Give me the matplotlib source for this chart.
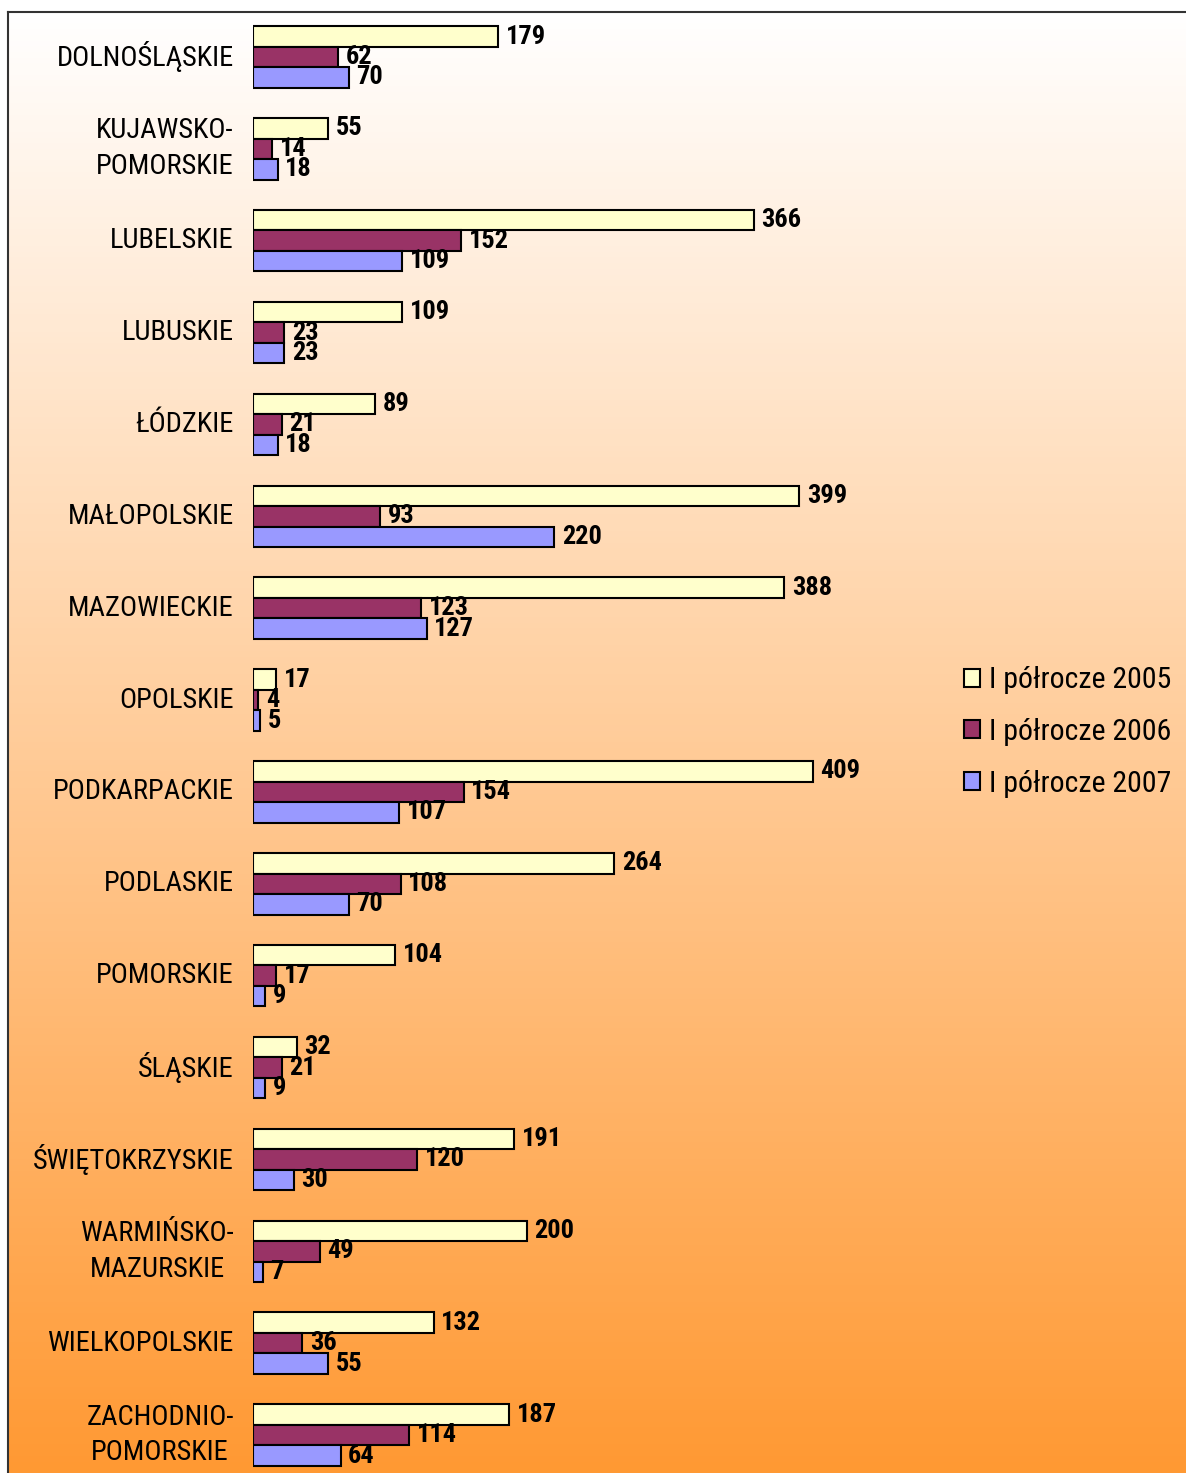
import numpy as np
import matplotlib
matplotlib.use("Agg")
import matplotlib.pyplot as plt
from matplotlib.patches import Patch
from matplotlib.lines import Line2D

regions = ["DOLNOŚLĄSKIE", "KUJAWSKO-\nPOMORSKIE", "LUBELSKIE", "LUBUSKIE", "ŁÓDZKIE",
           "MAŁOPOLSKIE", "MAZOWIECKIE", "OPOLSKIE", "PODKARPACKIE", "PODLASKIE",
           "POMORSKIE", "ŚLĄSKIE", "ŚWIĘTOKRZYSKIE", "WARMIŃSKO-\nMAZURSKIE",
           "WIELKOPOLSKIE", "ZACHODNIO-\nPOMORSKIE"]
h2005 = [179, 55, 366, 109, 89, 399, 388, 17, 409, 264, 104, 32, 191, 200, 132, 187]
h2006 = [62, 14, 152, 23, 21, 93, 123, 4, 154, 108, 17, 21, 120, 49, 36, 114]
h2007 = [70, 18, 109, 23, 18, 220, 127, 5, 107, 70, 9, 9, 30, 7, 55, 64]
series_labels = ["I półrocze 2005", "I półrocze 2006", "I półrocze 2007"]
colors = ["#FFFFCC", "#993366", "#9999FF"]

FONT = ["Roboto Condensed", "DejaVu Sans"]
plt.rcParams["font.family"] = FONT

W, H = 1186, 1473
fig = plt.figure(figsize=(W / 100, H / 100), dpi=100)

# background gradient inside the frame (white -> orange)
bg = fig.add_axes([8 / W, 0, 1 - 8 / W, (H - 12) / H])
grad = np.linspace(0, 1, 256)[:, None]
top = np.array([1.0, 1.0, 1.0])
bot = np.array([1.0, 0.6, 0.2])
img = top[None, None, :] * (1 - grad[:, :, None]) + bot[None, None, :] * grad[:, :, None]
bg.imshow(img, aspect="auto", extent=[0, 1, 0, 1])
bg.set_xlim(0, 1)
bg.set_ylim(0, 1)
bg.axis("off")
fig.add_artist(Line2D([8 / W, 8 / W], [0, (H - 12) / H], color="#333333", lw=1.5))
fig.add_artist(Line2D([8 / W, 1], [(H - 12) / H, (H - 12) / H], color="#333333", lw=1.5))

# main bar axes, positioned so that 1 unit = 1.369 px and groups are 91.87 px apart
px_per_unit = 1.369
x0 = 253
ax_w = 660
ax = fig.add_axes([x0 / W, 0, ax_w / W, (H - 12) / H])
ax.patch.set_alpha(0)
ax.set_xlim(0, ax_w / px_per_unit)
spacing = 91.87
c0 = 57
ax.set_ylim((H - c0) / spacing, (12 - c0) / spacing)

y = np.arange(len(regions))
bh = 20.5 / spacing
for k, vals in enumerate([h2005, h2006, h2007]):
    pos = y + (k - 1) * bh
    ax.barh(pos, vals, height=bh, color=colors[k], edgecolor="black", lw=1.5,
            label=series_labels[k])
    for p, v in zip(pos, vals):
        ax.text(v + 5.5, p, str(v), va="center", ha="left", fontsize=19,
                fontweight="bold", family=FONT)

for i, name in enumerate(regions):
    ax.text(-14, i, name, ha="right", va="center", multialignment="center",
            fontsize=20.5, family=FONT, linespacing=1.42)

ax.axis("off")

handles = [Patch(facecolor=c, edgecolor="black", lw=1.5) for c in colors]
fig.legend(handles, series_labels, loc="center left", bbox_to_anchor=(937 / W, 1 - 732 / H),
           frameon=False, handlelength=0.55, handleheight=0.55,
           handletextpad=0.3, labelspacing=0.8, prop={"family": FONT, "size": 21.5})

fig.savefig("out.png", dpi=100)
